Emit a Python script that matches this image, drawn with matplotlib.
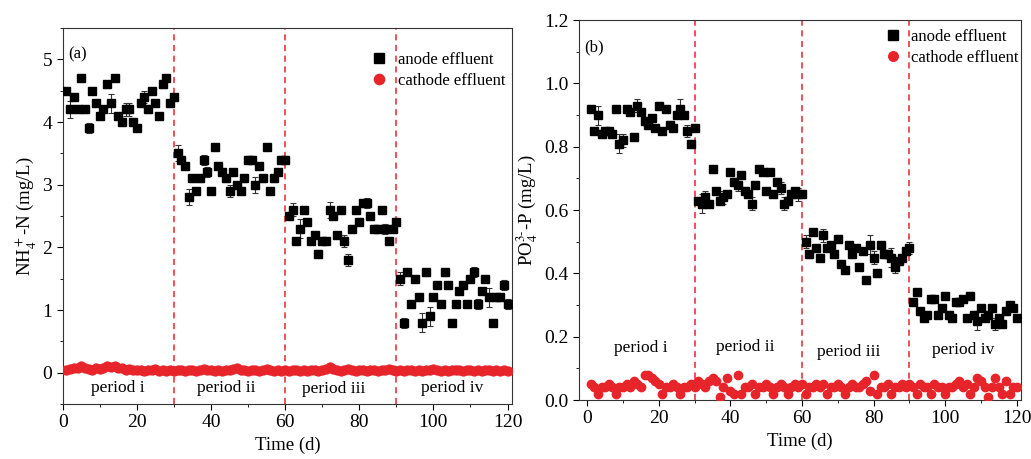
import matplotlib
matplotlib.use("Agg")
import matplotlib.pyplot as plt
import numpy as np
from matplotlib.ticker import MultipleLocator, FormatStrFormatter

plt.rcParams['font.family'] = ['Liberation Serif', 'DejaVu Serif']
plt.rcParams['mathtext.fontset'] = 'stix'

# ---- data -------------------------------------------------------------
days = list(range(1, 121))

# NH4+-N, anode effluent (mg/L)
nh4_anode = [4.5, 4.2, 4.4, 4.2, 4.7, 4.2, 3.9, 4.5, 4.3, 4.1, 4.2, 4.6, 4.3, 4.7, 4.1,
             4.0, 4.2, 4.2, 4.0, 3.9, 4.3, 4.4, 4.2, 4.5, 4.3, 4.1, 4.6, 4.7, 4.3, 4.4,
             3.5, 3.4, 3.3, 2.8, 3.1, 2.9, 3.1, 3.4, 3.2, 2.9, 3.6, 3.3, 3.2, 3.1, 2.9,
             3.2, 3.0, 2.9, 3.1, 3.4, 3.4, 3.0, 3.3, 3.1, 3.6, 2.9, 3.1, 3.2, 3.4, 3.4,
             2.5, 2.6, 2.1, 2.3, 2.6, 2.4, 2.1, 2.2, 1.9, 2.1, 2.1, 2.6, 2.5, 2.2, 2.6,
             2.1, 1.8, 2.3, 2.6, 2.4, 2.7, 2.7, 2.5, 2.3, 2.3, 2.6, 2.3, 2.1, 2.3, 2.4,
             1.5, 0.8, 1.6, 1.1, 1.5, 1.2, 0.8, 1.6, 0.9, 1.2, 1.4, 1.1, 1.6, 1.4, 0.8,
             1.1, 1.3, 1.4, 1.1, 1.5, 1.6, 1.1, 1.3, 1.5, 1.2, 0.8, 1.2, 1.2, 1.4, 1.1]
nh4_anode_err = [0.05, 0.13, 0.05, 0.05, 0.05, 0.05, 0.08, 0.05, 0.05, 0.05, 0.05, 0.05, 0.15, 0.05, 0.05,
                 0.05, 0.1, 0.1, 0.05, 0.05, 0.05, 0.1, 0.05, 0.05, 0.05, 0.05, 0.05, 0.05, 0.05, 0.05,
                 0.13, 0.05, 0.05, 0.13, 0.05, 0.05, 0.05, 0.08, 0.08, 0.05, 0.05, 0.05, 0.05, 0.05, 0.1,
                 0.05, 0.05, 0.05, 0.05, 0.05, 0.05, 0.13, 0.05, 0.05, 0.05, 0.05, 0.05, 0.05, 0.05, 0.05,
                 0.05, 0.1, 0.05, 0.15, 0.05, 0.05, 0.05, 0.05, 0.05, 0.05, 0.05, 0.13, 0.05, 0.05, 0.05,
                 0.1, 0.1, 0.05, 0.05, 0.05, 0.05, 0.08, 0.05, 0.05, 0.05, 0.05, 0.08, 0.05, 0.05, 0.05,
                 0.1, 0.08, 0.05, 0.05, 0.05, 0.05, 0.15, 0.05, 0.15, 0.05, 0.05, 0.05, 0.05, 0.05, 0.05,
                 0.05, 0.05, 0.05, 0.05, 0.05, 0.08, 0.08, 0.05, 0.05, 0.15, 0.05, 0.05, 0.05, 0.08, 0.08]
# NH4+-N, cathode effluent (mg/L)
nh4_cathode = [0.04, 0.06, 0.07, 0.08, 0.1, 0.08, 0.06, 0.05, 0.07, 0.06, 0.08, 0.1, 0.09, 0.1, 0.08,
               0.07, 0.05, 0.06, 0.04, 0.05, 0.04, 0.03, 0.05, 0.04, 0.06, 0.03, 0.04, 0.03, 0.04, 0.03,
               0.04, 0.05, 0.03, 0.04, 0.05, 0.03, 0.04, 0.06, 0.05, 0.04, 0.03, 0.04, 0.03, 0.05, 0.04,
               0.06, 0.07, 0.05, 0.04, 0.03, 0.04, 0.05, 0.03, 0.04, 0.06, 0.04, 0.03, 0.04, 0.03, 0.04,
               0.03, 0.04, 0.05, 0.03, 0.04, 0.03, 0.05, 0.04, 0.03, 0.04, 0.06, 0.09, 0.06, 0.04, 0.03,
               0.04, 0.06, 0.04, 0.03, 0.05, 0.04, 0.03, 0.05, 0.04, 0.03, 0.05, 0.04, 0.06, 0.04, 0.03,
               0.04, 0.03, 0.05, 0.04, 0.03, 0.04, 0.03, 0.04, 0.05, 0.06, 0.04, 0.03, 0.04, 0.03, 0.04,
               0.05, 0.04, 0.03, 0.05, 0.04, 0.03, 0.04, 0.03, 0.04, 0.05, 0.03, 0.04, 0.03, 0.04, 0.03]

# PO4(3-)-P, anode effluent (mg/L)
po4_anode = [0.92, 0.85, 0.90, 0.84, 0.85, 0.85, 0.84, 0.92, 0.81, 0.82, 0.92, 0.91, 0.83, 0.93, 0.91,
             0.88, 0.87, 0.89, 0.86, 0.93, 0.85, 0.92, 0.87, 0.86, 0.90, 0.92, 0.90, 0.85, 0.81, 0.86,
             0.63, 0.62, 0.64, 0.62, 0.73, 0.66, 0.63, 0.64, 0.65, 0.72, 0.69, 0.68, 0.71, 0.66, 0.65,
             0.62, 0.68, 0.73, 0.72, 0.66, 0.72, 0.65, 0.69, 0.67, 0.62, 0.63, 0.65, 0.66, 0.65, 0.65,
             0.50, 0.46, 0.53, 0.48, 0.45, 0.52, 0.48, 0.49, 0.46, 0.51, 0.43, 0.41, 0.49, 0.46, 0.48,
             0.42, 0.47, 0.38, 0.49, 0.45, 0.40, 0.49, 0.46, 0.46, 0.45, 0.42, 0.44, 0.45, 0.47, 0.48,
             0.31, 0.34, 0.28, 0.26, 0.27, 0.32, 0.32, 0.27, 0.29, 0.33, 0.27, 0.26, 0.31, 0.31, 0.32,
             0.26, 0.33, 0.27, 0.25, 0.29, 0.26, 0.27, 0.29, 0.24, 0.26, 0.24, 0.28, 0.30, 0.29, 0.26]
po4_anode_err = [0.01, 0.01, 0.03, 0.01, 0.01, 0.01, 0.01, 0.01, 0.03, 0.02, 0.01, 0.01, 0.01, 0.02, 0.01,
                 0.01, 0.01, 0.01, 0.01, 0.01, 0.01, 0.01, 0.01, 0.01, 0.01, 0.03, 0.01, 0.02, 0.01, 0.01,
                 0.01, 0.03, 0.02, 0.01, 0.01, 0.01, 0.01, 0.02, 0.01, 0.01, 0.01, 0.02, 0.01, 0.01, 0.01,
                 0.02, 0.01, 0.01, 0.01, 0.01, 0.01, 0.01, 0.01, 0.02, 0.02, 0.01, 0.01, 0.01, 0.02, 0.01,
                 0.02, 0.01, 0.01, 0.01, 0.01, 0.02, 0.01, 0.01, 0.01, 0.01, 0.01, 0.01, 0.01, 0.01, 0.01,
                 0.01, 0.01, 0.01, 0.03, 0.02, 0.01, 0.01, 0.01, 0.01, 0.03, 0.02, 0.01, 0.01, 0.01, 0.02,
                 0.01, 0.01, 0.01, 0.01, 0.01, 0.01, 0.01, 0.01, 0.01, 0.01, 0.01, 0.01, 0.01, 0.01, 0.01,
                 0.01, 0.01, 0.01, 0.03, 0.01, 0.01, 0.01, 0.01, 0.02, 0.01, 0.01, 0.01, 0.01, 0.01, 0.01]
# PO4(3-)-P, cathode effluent (mg/L)
po4_cathode = [0.05, 0.04, 0.02, 0.04, 0.04, 0.05, 0.04, 0.02, 0.04, 0.04, 0.05, 0.04, 0.06, 0.05, 0.04,
               0.08, 0.08, 0.07, 0.06, 0.05, 0.02, 0.04, 0.04, 0.05, 0.04, 0.02, 0.04, 0.04, 0.05, 0.04,
               0.06, 0.05, 0.04, 0.06, 0.07, 0.06, 0.01, 0.04, 0.07, 0.03, 0.02, 0.08, 0.02, 0.04, 0.04,
               0.05, 0.02, 0.04, 0.04, 0.05, 0.04, 0.02, 0.04, 0.05, 0.04, 0.02, 0.04, 0.05, 0.04, 0.05,
               0.02, 0.04, 0.04, 0.05, 0.04, 0.05, 0.02, 0.04, 0.04, 0.05, 0.04, 0.02, 0.04, 0.05, 0.04,
               0.04, 0.05, 0.06, 0.03, 0.08, 0.02, 0.04, 0.04, 0.05, 0.02, 0.04, 0.04, 0.05, 0.04, 0.05,
               0.04, 0.02, 0.05, 0.04, 0.04, 0.02, 0.05, 0.04, 0.04, 0.02, 0.04, 0.04, 0.05, 0.06, 0.04,
               0.05, 0.02, 0.04, 0.07, 0.06, 0.04, 0.01, 0.04, 0.07, 0.04, 0.02, 0.06, 0.02, 0.04, 0.04]

period_bounds = [30, 60, 90]
period_labels = ['period i', 'period ii', 'period iii', 'period iv']
period_x = [15, 44, 73, 105]

RED = '#e8242b'


def draw_panel(ax, anode, anode_err, cathode, ylabel, tag, ylim, label_y,
               sq_size, ci_size, legend_anchor):
    h_an = ax.errorbar(days, anode, yerr=anode_err, fmt='s', color='k', ms=sq_size,
                       ecolor='#333333', elinewidth=0.8, capsize=2.5, capthick=0.8,
                       zorder=3)
    h_ca, = ax.plot(days, cathode, 'o', color=RED, ms=ci_size, mec=RED, zorder=3)
    for b in period_bounds:
        ax.axvline(b, color=RED, ls=(0, (4, 3)), lw=1.1, zorder=2)
    for px, lab, ly in zip(period_x, period_labels, label_y):
        ax.text(px, ly, lab, ha='center', va='center', fontsize=12.5)
    ax.set_ylim(*ylim)
    ax.set_xlabel('Time (d)', fontsize=13.5)
    ax.set_ylabel(ylabel, fontsize=13.5, labelpad=3)
    ax.xaxis.set_major_locator(MultipleLocator(20))
    ax.xaxis.set_minor_locator(MultipleLocator(10))
    ax.tick_params(direction='out', labelsize=14, length=4)
    ax.tick_params(which='minor', direction='out', length=2.5)
    ax.text(0.012, 0.95, tag, transform=ax.transAxes, fontsize=12, va='top')
    ax.legend([h_an[0], h_ca], ['anode effluent', 'cathode effluent'],
              loc='upper right', bbox_to_anchor=legend_anchor, frameon=False,
              fontsize=12, handletextpad=0.5, borderaxespad=0.0,
              labelspacing=0.3, handlelength=1.2, numpoints=1, markerscale=1.15)
    for s in ax.spines.values():
        s.set_color('#333333')


fig = plt.figure(figsize=(10.31, 4.59), dpi=100)
ax1 = fig.add_axes([0.0608, 0.1198, 0.4358, 0.8192])
ax2 = fig.add_axes([0.5613, 0.1285, 0.4287, 0.8279])

draw_panel(ax1, nh4_anode, nh4_anode_err, nh4_cathode,
           r'NH$_4^+$-N (mg/L)', '(a)', (-0.5, 5.5), [-0.24, -0.24, -0.26, -0.25],
           6.2, 6.4, (1.0, 0.955))
ax1.set_xlim(0, 121.2)
ax1.yaxis.set_major_locator(MultipleLocator(1))
ax1.yaxis.set_minor_locator(MultipleLocator(0.5))

draw_panel(ax2, po4_anode, po4_anode_err, po4_cathode,
           r'PO$_4^{3\text{-}}$-P (mg/L)', '(b)', (0, 1.2), [0.163, 0.168, 0.153, 0.158],
           6.0, 6.0, (1.01, 0.995))
ax2.set_xlim(-2.4, 121.1)
ax2.yaxis.set_major_locator(MultipleLocator(0.2))
ax2.yaxis.set_minor_locator(MultipleLocator(0.1))
ax2.yaxis.set_major_formatter(FormatStrFormatter('%.1f'))

fig.savefig('out.png', dpi=100)
